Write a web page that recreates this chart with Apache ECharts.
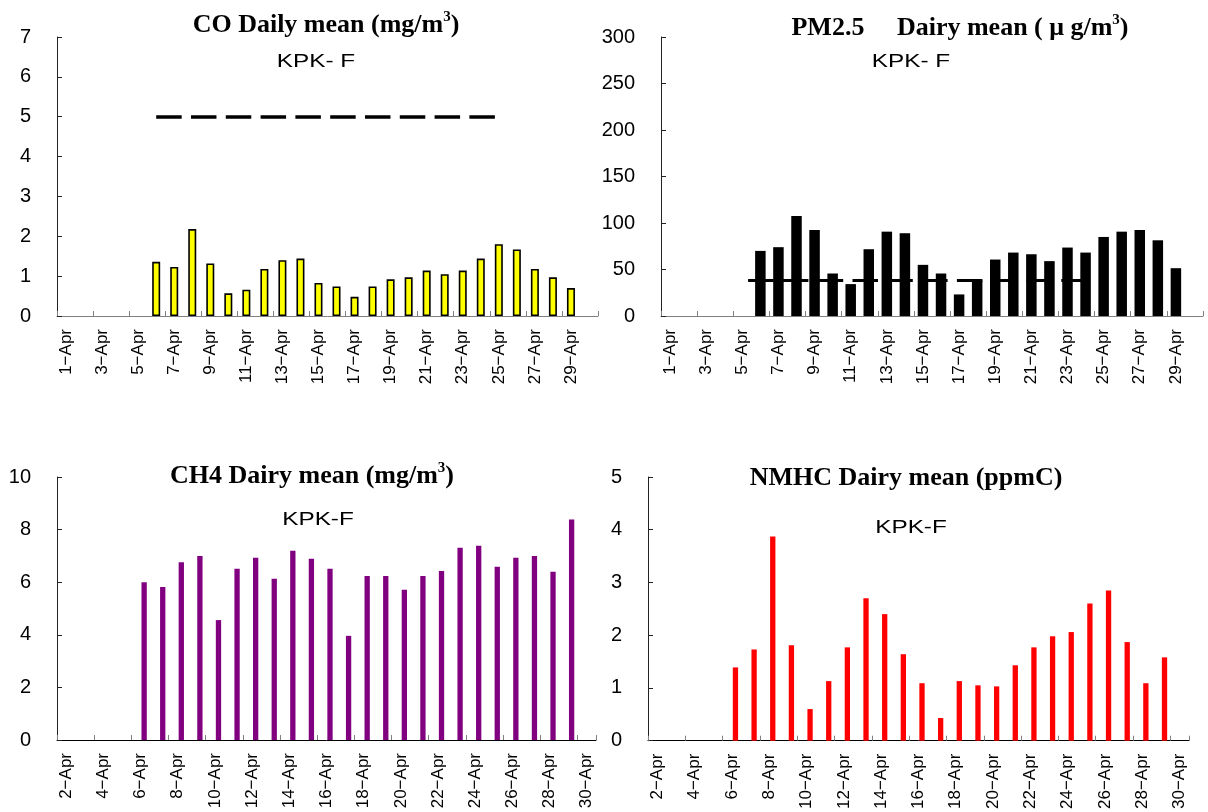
<!DOCTYPE html>
<html>
<head>
<meta charset="utf-8">
<script src="https://cdn.jsdelivr.net/npm/echarts@6/dist/echarts.min.js"></script>
<style>
  html, body { margin: 0; padding: 0; background: #fff; }
  #chart { width: 1208px; height: 812px; }
</style>
</head>
<body>
<div id="chart"></div>
<script>
// Day categories for the upper panels (1-Apr .. 30-Apr)
const daysTop = ['1-Apr','2-Apr','3-Apr','4-Apr','5-Apr','6-Apr','7-Apr','8-Apr','9-Apr','10-Apr',
  '11-Apr','12-Apr','13-Apr','14-Apr','15-Apr','16-Apr','17-Apr','18-Apr','19-Apr','20-Apr',
  '21-Apr','22-Apr','23-Apr','24-Apr','25-Apr','26-Apr','27-Apr','28-Apr','29-Apr','30-Apr'];
// Day categories for the lower panels (2-Apr .. 30-Apr)
const daysBottom = ['2-Apr','3-Apr','4-Apr','5-Apr','6-Apr','7-Apr','8-Apr','9-Apr','10-Apr',
  '11-Apr','12-Apr','13-Apr','14-Apr','15-Apr','16-Apr','17-Apr','18-Apr','19-Apr','20-Apr',
  '21-Apr','22-Apr','23-Apr','24-Apr','25-Apr','26-Apr','27-Apr','28-Apr','29-Apr','30-Apr'];

// CO daily mean, mg/m3 (1-Apr .. 30-Apr)
const coValues = [null, null, null, null, null,
  1.36, 1.23, 2.18, 1.32, 0.57, 0.66, 1.18, 1.40, 1.44, 0.83, 0.74, 0.48, 0.74,
  0.92, 0.97, 1.14, 1.05, 1.14, 1.44, 1.80, 1.67, 1.18, 0.97, 0.70, null];
// PM2.5 daily mean, ug/m3 (1-Apr .. 30-Apr)
const pmValues = [null, null, null, null, null,
  70, 74, 107.5, 92.5, 45.7, 34.3, 71.8, 90.7, 89, 55, 45.7, 23.2, 38.2,
  60.7, 68.2, 66.4, 59, 73.6, 68.2, 85, 90.7, 92.5, 81.4, 51.4, null];
// CH4 daily mean, mg/m3 (2-Apr .. 30-Apr)
const ch4Values = [null, null, null, null,
  6.00, 5.82, 6.76, 7.00, 4.56, 6.51, 6.93, 6.13, 7.20, 6.89, 6.51, 3.96, 6.24,
  6.24, 5.71, 6.24, 6.43, 7.31, 7.39, 6.59, 6.93, 7.00, 6.40, 8.38, null];
// NMHC daily mean, ppmC (2-Apr .. 30-Apr)
const nmhcValues = [null, null, null, null,
  1.39, 1.73, 3.87, 1.81, 0.60, 1.13, 1.77, 2.70, 2.40, 1.64, 1.09, 0.43, 1.13,
  1.05, 1.03, 1.43, 1.77, 1.98, 2.06, 2.60, 2.85, 1.87, 1.09, 1.58, null];

// Reference (standard) levels drawn as dashed lines
const coStandard = 5;
const coStandardSpan = ['6-Apr', '25-Apr'];
const pmStandard = 38;
const pmStandardSpan = ['5-Apr', '24-Apr'];

// Panel headings
const titles = [
  { main: ['CO Daily mean (mg/m', '3', ')'], sub: 'KPK- F' },
  { main: ['PM2.5     Dairy mean ( \u03bc g/m', '3', ')'], sub: 'KPK- F' },
  { main: ['CH4 Dairy mean (mg/m', '3', ')'], sub: 'KPK-F' },
  { main: ['NMHC Dairy mean (ppmC)', '', ''], sub: 'KPK-F' }
];

const SANS = 'Liberation Sans, Arial, sans-serif';
const SERIF = 'Liberation Serif, Times New Roman, serif';

function xAxisFor(gridIndex, cats, lineColor) {
  return {
    type: 'category', gridIndex: gridIndex, data: cats, boundaryGap: true,
    axisLine: { show: true, lineStyle: { color: lineColor, width: 1 } },
    axisTick: { show: true, inside: true, length: 5, interval: 1, lineStyle: { color: '#808080' } },
    axisLabel: {
      interval: 1, rotate: 90, margin: 13, color: '#000',
      fontFamily: SANS, fontSize: 17,
      formatter: function (v) { return v.replace('-', '\u2212'); }
    },
    splitLine: { show: false }
  };
}
function yAxisFor(gridIndex, max, step) {
  return {
    type: 'value', gridIndex: gridIndex, min: 0, max: max, interval: step,
    axisLine: { show: true, lineStyle: { color: '#222', width: 1 } },
    axisTick: { show: true, inside: true, length: 5, lineStyle: { color: '#222' } },
    axisLabel: { margin: 26, color: '#000', fontFamily: SANS, fontSize: 20 },
    splitLine: { show: false }
  };
}
function dashedLevel(span, level, width, offset) {
  return {
    silent: true, symbol: ['none', 'none'], animation: false,
    label: { show: false },
    emphasis: { disabled: true },
    lineStyle: { color: '#000', width: width, type: [25.5, 9.3], dashOffset: offset },
    data: [[{ xAxis: span[0], yAxis: level }, { xAxis: span[1], yAxis: level }]]
  };
}

const headPos = [
  { tx: 326, ty: 25, sx: 316, sy: 62 },
  { tx: 960, ty: 28, sx: 911, sy: 62 },
  { tx: 312, ty: 476, sx: 318, sy: 520 },
  { tx: 906, ty: 478, sx: 911, sy: 528 }
];
const graphics = [];
titles.forEach(function (t, i) {
  const p = headPos[i];
  graphics.push({
    type: 'text', x: p.tx, y: p.ty, silent: true,
    style: {
      text: '{t|' + t.main[0] + '}' + (t.main[1] ? '{s|' + t.main[1] + '}' : '') + (t.main[2] ? '{t|' + t.main[2] + '}' : ''),
      align: 'center', verticalAlign: 'middle',
      rich: {
        t: { fontFamily: SERIF, fontWeight: 'bold', fontSize: 26, lineHeight: 30, fill: '#000' },
        s: { fontFamily: SERIF, fontWeight: 'bold', fontSize: 15, lineHeight: 30, verticalAlign: 'top', fill: '#000' }
      }
    }
  });
  // station tag, set in a wide gothic-style face
  graphics.push({
    type: 'text', x: p.sx, y: p.sy, silent: true, scaleX: 1.28,
    style: { text: t.sub, align: 'center', verticalAlign: 'middle', fontFamily: SANS, fontSize: 19, fill: '#000' }
  });
});

const chart = echarts.init(document.getElementById('chart'), null, { renderer: 'canvas' });
chart.setOption({
  animation: false,
  backgroundColor: '#fff',
  grid: [
    { left: 57, top: 37, width: 541, height: 279 },
    { left: 661, top: 37, width: 542, height: 279 },
    { left: 57, top: 477, width: 539, height: 263 },
    { left: 648, top: 477, width: 541, height: 264 }
  ],
  xAxis: [
    xAxisFor(0, daysTop, '#808080'),
    xAxisFor(1, daysTop, '#808080'),
    xAxisFor(2, daysBottom, '#000'),
    xAxisFor(3, daysBottom, '#000')
  ],
  yAxis: [
    yAxisFor(0, 7, 1),
    yAxisFor(1, 300, 50),
    yAxisFor(2, 10, 2),
    yAxisFor(3, 5, 1)
  ],
  graphic: graphics,
  series: [
    {
      name: 'CO', type: 'bar', xAxisIndex: 0, yAxisIndex: 0, data: coValues,
      barWidth: 8,
      itemStyle: { color: '#ffff00', borderColor: '#000', borderWidth: 1.6 },
      markLine: dashedLevel(coStandardSpan, coStandard, 3.5, 0)
    },
    {
      name: 'PM2.5', type: 'bar', xAxisIndex: 1, yAxisIndex: 1, data: pmValues,
      barWidth: 10.5,
      itemStyle: { color: '#000' },
      markLine: dashedLevel(pmStandardSpan, pmStandard, 3, 29)
    },
    // empty slot left of each lower-panel bar, so the bars sit right of the day centre
    { name: 'CH4 slot', type: 'bar', xAxisIndex: 2, yAxisIndex: 2, data: [], barWidth: 5.3, barGap: '32%' },
    {
      name: 'CH4', type: 'bar', xAxisIndex: 2, yAxisIndex: 2, data: ch4Values,
      barWidth: 5.3, barGap: '32%',
      itemStyle: { color: '#800080' }
    },
    { name: 'NMHC slot', type: 'bar', xAxisIndex: 3, yAxisIndex: 3, data: [], barWidth: 5.3, barGap: '32%' },
    {
      name: 'NMHC', type: 'bar', xAxisIndex: 3, yAxisIndex: 3, data: nmhcValues,
      barWidth: 5.3, barGap: '32%',
      itemStyle: { color: '#ff0000' }
    }
  ]
});
</script>
</body>
</html>
